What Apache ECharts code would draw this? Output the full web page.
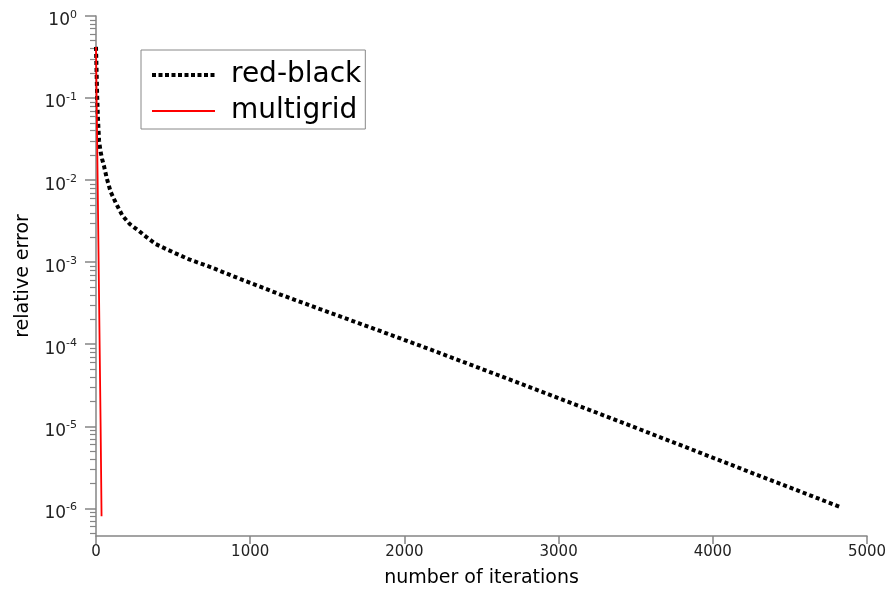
<!DOCTYPE html>
<html>
<head>
<meta charset="utf-8">
<script src="https://cdn.jsdelivr.net/npm/echarts@6/dist/echarts.min.js"></script>
<style>
html,body{margin:0;padding:0;background:#fff;}
#chart{width:891px;height:597px;}
</style>
</head>
<body>
<div id="chart"></div>
<script>
// ---- data ----
var redBlackIter = [0, 4, 8, 12, 20, 30, 40, 52, 70, 95, 130, 171, 220, 279, 330, 388, 500, 604, 750, 885, 1000, 1200, 1448, 1838, 2200, 2660, 3266, 3800, 4300, 4820];
var redBlackErr  = [0.42, 0.2, 0.1, 0.06, 0.03, 0.022, 0.018, 0.0148, 0.0105, 0.0072, 0.0052, 0.0037, 0.0029, 0.0024, 0.002, 0.00166, 0.00132, 0.00108, 0.00086, 0.00068, 0.00056, 0.0004, 0.00027, 0.000146, 8.2e-5, 3.85e-5, 1.42e-5, 5.8e-6, 2.5e-6, 1.05e-6];
var multigridIter = [0, 6, 12, 18, 24, 30, 36];
var multigridErr  = [0.42, 0.05, 6e-3, 7e-4, 8.5e-5, 1e-5, 8e-7];
var xTicks = [0, 1000, 2000, 3000, 4000, 5000];
var yMajorTicks = [1e-6, 1e-5, 1e-4, 1e-3, 1e-2, 1e-1, 1];
var yMinorMultipliers = [2, 3, 4, 5, 6, 7, 8, 9];
var seriesNames = ['red-black', 'multigrid'];

var yMinor = [];
[1e-7, 1e-6, 1e-5, 1e-4, 1e-3, 1e-2, 1e-1].forEach(function (d) {
  yMinorMultipliers.forEach(function (m) {
    var v = +(d * m).toPrecision(3);
    if (v >= 4.6e-7 && v < 1) yMinor.push(v);
  });
});

function zip(a, b) { return a.map(function (v, i) { return [v, b[i]]; }); }

var FONT = 'DejaVu Sans';
var axisGrey = '#858585';
var chart = echarts.init(document.getElementById('chart'), null, {renderer: 'canvas'});
chart.setOption({
  animation: false,
  backgroundColor: '#fff',
  grid: {left: 96, right: 24, top: 16, bottom: 61, containLabel: false},
  legend: {
    orient: 'vertical',
    left: 141, top: 50,
    padding: [10, 4, 3, 9],
    borderColor: '#888', borderWidth: 1,
    itemWidth: 63, itemHeight: 14, itemGap: 6,
    itemStyle: {color: 'rgba(0,0,0,0)', borderWidth: 0, opacity: 0},
    textStyle: {fontFamily: FONT, fontSize: 28, color: '#000', lineHeight: 30, padding: [0, 0, 0, 11]},
    data: [
      {name: seriesNames[0], lineStyle: {color: '#000', width: 4, type: [4, 2.5], cap: 'butt'}},
      {name: seriesNames[1], lineStyle: {color: '#ff0000', width: 2}}
    ]
  },
  xAxis: {
    type: 'value', min: 0, max: 5000, interval: 1000,
    axisLine: {lineStyle: {color: axisGrey, width: 1.5}},
    axisTick: {length: 8, lineStyle: {color: axisGrey, width: 1.5}},
    axisLabel: {fontFamily: FONT, fontSize: 15, color: '#222', margin: 9,
      formatter: function (v) { return String(v); }},
    splitLine: {show: false},
    name: 'number of iterations', nameLocation: 'middle', nameGap: 33,
    nameTextStyle: {fontFamily: FONT, fontSize: 19, color: '#000'}
  },
  yAxis: [{
    type: 'log', logBase: 10, min: 4.6e-7, max: 1,
    axisLine: {show: true, lineStyle: {color: axisGrey, width: 1.5}},
    axisTick: {show: true, length: 11, customValues: yMajorTicks, lineStyle: {color: axisGrey, width: 1.5}},
    axisLabel: {
      customValues: yMajorTicks,
      margin: 19,
      padding: [7, 0, 0, 0],
      formatter: function (v) {
        var e = Math.round(Math.log10(v));
        return '{b|10}{s|' + e + '}';
      },
      rich: {
        b: {fontFamily: FONT, fontSize: 17, color: '#222', lineHeight: 20, verticalAlign: 'bottom'},
        s: {fontFamily: FONT, fontSize: 11, color: '#222', lineHeight: 20, verticalAlign: 'top'}
      }
    },
    splitLine: {show: false},
    minorTick: {show: false},
    name: 'relative error', nameLocation: 'middle', nameGap: 63,
    nameTextStyle: {fontFamily: FONT, fontSize: 19, color: '#000'}
  }, {
    type: 'log', logBase: 10, min: 4.6e-7, max: 1, position: 'left',
    axisLine: {show: false},
    axisTick: {show: true, length: 6, customValues: yMinor, lineStyle: {color: axisGrey, width: 1.2}},
    axisLabel: {show: false},
    splitLine: {show: false}
  }],
  series: [{
    name: seriesNames[0], type: 'line', yAxisIndex: 0,
    data: zip(redBlackIter, redBlackErr),
    symbol: 'none', smooth: false,
    lineStyle: {color: '#000', width: 4, type: [4, 3], cap: 'butt'},
    itemStyle: {color: '#000'}
  }, {
    name: seriesNames[1], type: 'line', yAxisIndex: 0,
    data: zip(multigridIter, multigridErr),
    symbol: 'none',
    lineStyle: {color: '#ff0000', width: 1.8},
    itemStyle: {color: '#ff0000'}
  }]
});
</script>
</body>
</html>
